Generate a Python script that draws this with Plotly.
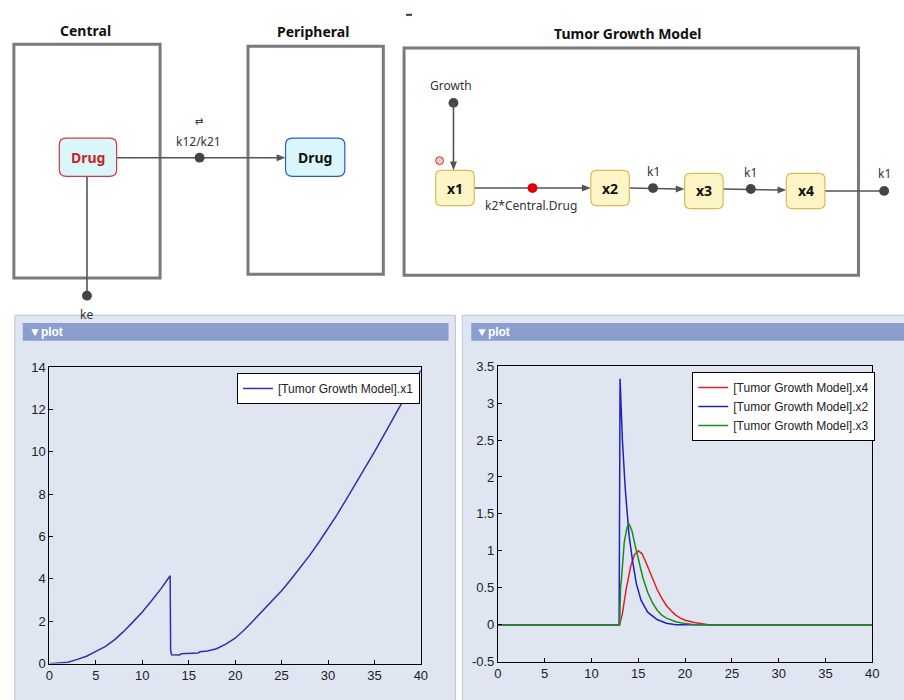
import plotly.graph_objects as go

# ---------------- data ----------------
t_x1 = [0, 1, 2, 3, 4, 5, 6, 7, 8, 9, 10, 11, 12, 13.0, 13.05, 13.15, 13.6, 14.0, 14.2,
        15, 16, 16.2, 17, 18, 19, 20, 21, 22, 23, 24, 25, 26, 27, 28, 29, 30, 31, 32,
        33, 34, 35, 36, 37, 38, 39, 40]
x1_vals = [0, 0.03, 0.07, 0.2, 0.35, 0.58, 0.8, 1.12, 1.52, 1.97, 2.44, 2.97, 3.53, 4.15,
           0.65, 0.42, 0.4, 0.41, 0.47, 0.47, 0.5, 0.56, 0.6, 0.7, 0.92, 1.2, 1.6, 2.05,
           2.5, 2.95, 3.44, 3.97, 4.52, 5.1, 5.72, 6.36, 7.05, 7.78, 8.5, 9.23, 10.0,
           10.78, 11.58, 12.35, 13.1, 13.85]

t_x4 = [0, 13.0, 13.3, 13.7, 14.2, 14.6, 15.0, 15.4, 15.8, 16.2, 16.6, 17.0, 17.5, 18.0,
        18.5, 19.0, 19.5, 20.0, 21.0, 22.0, 22.5, 40]
x4_vals = [0, 0, 0.15, 0.48, 0.8, 0.95, 1.0, 0.96, 0.85, 0.72, 0.6, 0.48, 0.36, 0.26,
           0.19, 0.13, 0.09, 0.06, 0.03, 0.01, 0, 0]

t_x2 = [0, 12.95, 13.05, 13.3, 13.6, 14.0, 14.4, 14.8, 15.3, 16.0, 17.0, 18.0, 19.0, 40]
x2_vals = [0, 0, 3.33, 2.5, 1.85, 1.22, 0.85, 0.55, 0.33, 0.17, 0.07, 0.02, 0, 0]

t_x3 = [0, 13.0, 13.1, 13.2, 13.5, 13.8, 14.0, 14.3, 14.7, 15.0, 15.5, 16.0, 16.5, 17.0,
        17.5, 18.0, 19.0, 20.0, 21.0, 40]
x3_vals = [0, 0, 0.5, 0.62, 1.12, 1.32, 1.37, 1.28, 1.05, 0.88, 0.63, 0.44, 0.3, 0.2,
           0.13, 0.09, 0.04, 0.015, 0, 0]

left_yticks = [0, 2, 4, 6, 8, 10, 12, 14]
right_yticks = [-0.5, 0, 0.5, 1, 1.5, 2, 2.5, 3, 3.5]
right_yticklabels = ["-0.5", "0", "0.5", "1", "1.5", "2", "2.5", "3", "3.5"]
xticks = [0, 5, 10, 15, 20, 25, 30, 35, 40]

# ---------------- helpers (pixel -> paper) ----------------
W, H = 904, 700
def X(px): return px / W
def Y(py): return 1 - py / H

NARROW = "Liberation Sans, Arial, sans-serif"
DIAG = "Noto Sans, Open Sans, sans-serif"

shapes = []
annots = []

def rect(x0, y0, x1, y1, color="#7a7a7a", width=3, fill=None, layer="above"):
    shapes.append(dict(type="rect", xref="paper", yref="paper", x0=X(x0), x1=X(x1),
                       y0=Y(y1), y1=Y(y0), line=dict(color=color, width=width),
                       fillcolor=fill if fill else "rgba(0,0,0,0)", layer=layer))

def rrect(x0, y0, x1, y1, r, color, fill, width=1.2):
    p = lambda x, y: f"{X(x):.5f},{Y(y):.5f}"
    path = (f"M{p(x0+r,y0)} L{p(x1-r,y0)} Q{p(x1,y0)} {p(x1,y0+r)} L{p(x1,y1-r)} "
            f"Q{p(x1,y1)} {p(x1-r,y1)} L{p(x0+r,y1)} Q{p(x0,y1)} {p(x0,y1-r)} "
            f"L{p(x0,y0+r)} Q{p(x0,y0)} {p(x0+r,y0)} Z")
    shapes.append(dict(type="path", xref="paper", yref="paper", path=path,
                       line=dict(color=color, width=width), fillcolor=fill))

def line(x0, y0, x1, y1, color="#555555", width=1.6):
    shapes.append(dict(type="line", xref="paper", yref="paper", x0=X(x0), y0=Y(y0),
                       x1=X(x1), y1=Y(y1), line=dict(color=color, width=width)))

def dot(x, y, r=5, color="#444444"):
    shapes.append(dict(type="circle", xref="paper", yref="paper", x0=X(x-r), x1=X(x+r),
                       y0=Y(y+r), y1=Y(y-r), line=dict(color=color, width=0), fillcolor=color))

def arrow_right(x, y, L=9, w=3.5, color="#555555"):
    path = f"M{X(x):.5f},{Y(y):.5f} L{X(x-L):.5f},{Y(y-w):.5f} L{X(x-L):.5f},{Y(y+w):.5f} Z"
    shapes.append(dict(type="path", xref="paper", yref="paper", path=path,
                       line=dict(color=color, width=0), fillcolor=color))

def arrow_down(x, y, L=9, w=3.5, color="#555555"):
    path = f"M{X(x):.5f},{Y(y):.5f} L{X(x-w):.5f},{Y(y-L):.5f} L{X(x+w):.5f},{Y(y-L):.5f} Z"
    shapes.append(dict(type="path", xref="paper", yref="paper", path=path,
                       line=dict(color=color, width=0), fillcolor=color))

def text(x, y, s, size=12, color="#333333", bold=False, family=DIAG, xanchor="center",
         yanchor="middle"):
    annots.append(dict(xref="paper", yref="paper", x=X(x), y=Y(y), text=s, showarrow=False,
                       xanchor=xanchor, yanchor=yanchor,
                       font=dict(size=size, color=color, family=family,
                                 weight="bold" if bold else "normal")))

# ---------------- panels (behind plots) ----------------
rect(11, 315, 457, 712, color="#b9c4dc", width=1, fill="#dfe5f1", layer="below")
rect(19, 323, 450, 341, color="#8a9ecf", width=0, fill="#8a9ecf", layer="below")
rect(464, 315, 912, 712, color="#b9c4dc", width=1, fill="#dfe5f1", layer="below")
rect(473, 323, 912, 341, color="#8a9ecf", width=0, fill="#8a9ecf", layer="below")
text(23, 332, "▼plot", size=12, color="white", bold=True, family=NARROW, xanchor="left")
text(476, 332, "▼plot", size=12, color="white", bold=True, family=NARROW, xanchor="left")

# ---------------- diagram ----------------
TITLE = 14
text(83, 24, "Central", size=TITLE, color="#111111", bold=True)
text(313, 25, "Peripheral", size=TITLE, color="#111111", bold=True)
text(632, 27, "Tumor Growth Model", size=TITLE, color="#111111", bold=True)
line(407, 8, 413, 8, color="#333355", width=2)

rect(10, 38, 158, 277)
rect(247, 40, 384, 273)
rect(405, 42, 865, 274)

# Central / Peripheral
line(114, 154, 278, 154)
arrow_right(285, 154)
dot(198, 154)
text(197, 137, "k12/k21", size=12)
text(197, 117, "⇄", size=10, color="#444444")
line(84, 173, 84, 295)
dot(84, 295)
text(84, 304, "ke", size=12, yanchor="top")
rrect(56, 134, 114, 173, 7, "#d03a3a", "#d9f7fb")
text(85, 154, "Drug", size=14, color="#cc1f1f", bold=True)
rrect(285, 134, 345, 173, 7, "#3358cc", "#d9f7fb")
text(315, 154, "Drug", size=14, color="#111111", bold=True)

# Tumor growth model
GOLD, CREAM = "#d9b95a", "#fdf5c6"
text(453, 80, "Growth", size=12)
dot(455, 98)
line(455, 98, 455, 160)
arrow_down(455, 167)
shapes.append(dict(type="circle", xref="paper", yref="paper", x0=X(437), x1=X(445),
                   y0=Y(161), y1=Y(153), line=dict(color="#c03030", width=1),
                   fillcolor="#f4c8c8"))
line(476, 185, 587, 185)
arrow_right(594, 185)
dot(535, 185, color="#e00000")
text(533, 203, "k2*Central.Drug", size=12)
line(633, 185, 682, 186)
arrow_right(689, 186)
dot(657, 185)
text(657, 168, "k1", size=12)
line(728, 186, 785, 187)
arrow_right(792, 187)
dot(756, 186)
text(756, 169, "k1", size=12)
line(831, 188, 891, 188)
dot(891, 188)
text(891, 170, "k1", size=12)
for (bx0, by0, lbl) in [(437, 167, "x1"), (594, 167, "x2"), (689, 170, "x3"), (792, 170, "x4")]:
    rrect(bx0, by0, bx0 + 39, by0 + 36, 6, GOLD, CREAM)
    text(bx0 + 19.5, by0 + 18, lbl, size=14, color="#111111", bold=True)

# ---------------- traces ----------------
fig = go.Figure()
fig.add_trace(go.Scatter(x=t_x1, y=x1_vals, mode="lines", name="[Tumor Growth Model].x1",
                         line=dict(color="#3030a8", width=1.5), xaxis="x", yaxis="y",
                         legend="legend"))
fig.add_trace(go.Scatter(x=t_x4, y=x4_vals, mode="lines", name="[Tumor Growth Model].x4",
                         line=dict(color="#e02020", width=1.5), xaxis="x2", yaxis="y2",
                         legend="legend2"))
fig.add_trace(go.Scatter(x=t_x2, y=x2_vals, mode="lines", name="[Tumor Growth Model].x2",
                         line=dict(color="#2020c0", width=1.5), xaxis="x2", yaxis="y2",
                         legend="legend2"))
fig.add_trace(go.Scatter(x=t_x3, y=x3_vals, mode="lines", name="[Tumor Growth Model].x3",
                         line=dict(color="#1a8c1a", width=1.5), xaxis="x2", yaxis="y2",
                         legend="legend2"))

ax_common = dict(showline=True, mirror=True, linecolor="black", linewidth=1,
                 ticks="inside", ticklen=4, tickcolor="black", showgrid=False,
                 zeroline=False, tickfont=dict(family=NARROW, size=13, color="#222222"))

legend_common = dict(bgcolor="white", bordercolor="black", borderwidth=1,
                     font=dict(family=NARROW, size=12, color="#222222"),
                     xanchor="right", yanchor="top", tracegroupgap=0, itemwidth=30)

fig.update_layout(
    width=W, height=H, margin=dict(l=0, r=0, t=0, b=0),
    paper_bgcolor="white", plot_bgcolor="white",
    xaxis=dict(domain=[X(46), X(422)], range=[0, 40], tickvals=xticks, anchor="y",
               **ax_common),
    yaxis=dict(domain=[Y(671), Y(368)], range=[0, 14], tickvals=left_yticks, anchor="x",
               **ax_common),
    xaxis2=dict(domain=[X(500), X(879)], range=[0, 40], tickvals=xticks, anchor="y2",
                **ax_common),
    yaxis2=dict(domain=[Y(669), Y(367)], range=[-0.5, 3.5], tickvals=right_yticks,
                ticktext=right_yticklabels, anchor="x2", **ax_common),
    legend=dict(x=X(421), y=Y(374), **legend_common),
    legend2=dict(x=X(882), y=Y(373), **legend_common),
    shapes=shapes, annotations=annots, showlegend=True,
)

fig.write_html("out.html")
